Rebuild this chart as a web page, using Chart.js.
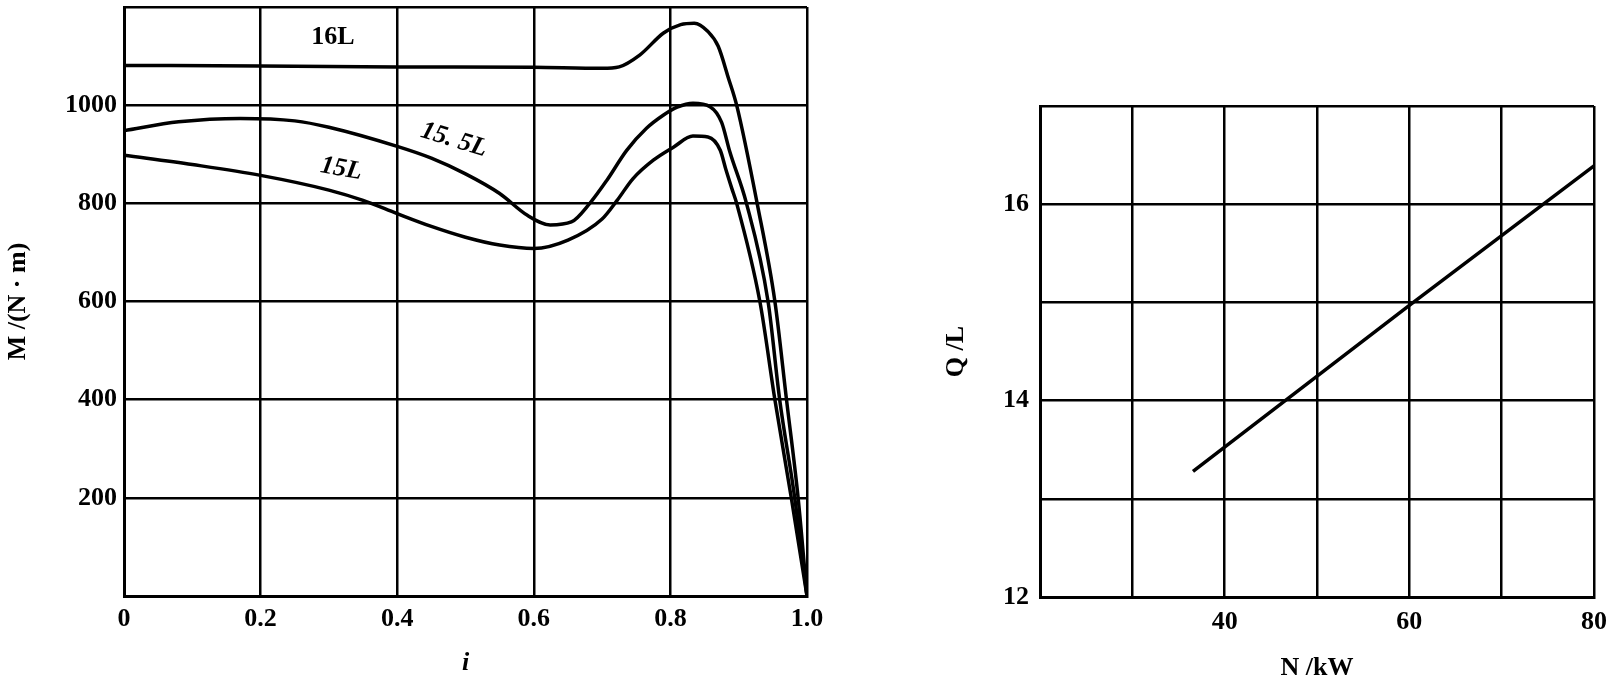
<!DOCTYPE html>
<html><head><meta charset="utf-8">
<script src="https://cdn.jsdelivr.net/npm/chart.js@4.4.1/dist/chart.umd.min.js"></script>
<style>
html,body{margin:0;padding:0;background:#fff;width:1606px;height:689px;overflow:hidden;}
canvas{position:absolute;top:0;}
#c1{left:0;}
#c2{left:900px;}
</style></head><body>
<canvas id="c1" width="830" height="689"></canvas>
<canvas id="c2" width="706" height="689"></canvas>
<script>
// ---- Left chart data: M (N·m) versus i ----
const i16  = [0, 0.2, 0.4, 0.6, 0.7, 0.725, 0.755, 0.79, 0.815, 0.835, 0.855, 0.87, 0.885, 0.897, 0.927, 0.953, 0.97, 0.987, 1.0];
const m16  = [1081, 1080, 1078, 1077, 1075, 1078, 1102, 1147, 1164, 1167, 1150, 1120, 1055, 1000, 800, 600, 400, 200, 0];
const i155 = [0, 0.08, 0.17, 0.25, 0.3, 0.4, 0.45, 0.5, 0.55, 0.59, 0.624, 0.655, 0.682, 0.707, 0.736, 0.765, 0.79, 0.81, 0.833, 0.858, 0.875, 0.887, 0.911, 0.943, 0.96, 0.982, 1.0];
const m155 = [948, 966, 973, 968, 955, 916, 892, 860, 820, 776, 756, 762, 800, 847, 908, 953, 980, 996, 1004, 997, 965, 905, 802, 600, 400, 200, 0];
const i15  = [0, 0.1, 0.2, 0.3, 0.35, 0.4, 0.45, 0.5, 0.55, 0.6, 0.65, 0.7, 0.722, 0.745, 0.775, 0.805, 0.833, 0.855, 0.873, 0.881, 0.89, 0.897, 0.931, 0.953, 0.977, 1.0];
const m15  = [898, 879, 857, 827, 806, 779, 753, 731, 715, 708, 725, 768, 806, 850, 888, 915, 937, 935, 908, 870, 830, 800, 600, 400, 200, 0];
const seriesNames = ['16L', '15. 5L', '15L'];
const leftXTickLabels = ['0', '0.2', '0.4', '0.6', '0.8', '1.0'];
const leftYTickLabels = ['', '200', '400', '600', '800', '1000', ''];

// ---- Right chart data: Q (L) versus N (kW) ----
const powerN = [36.57, 60, 80];
const fuelQ  = [13.28, 14.97, 16.39];
const rightXTickLabels = ['', '', '40', '', '60', '', '80'];
const rightYTickLabels = ['12', '', '14', '', '16', ''];

const FONT = '"Liberation Serif", "Times New Roman", serif';
const tickFont = {family: FONT, size: 26, weight: 'bold'};

function toPts(xs, ys){ return xs.map((x, k) => ({x: x, y: ys[k]})); }
function fixW(w){ return function(s){ s.width = w; s.paddingTop = 0; s.paddingBottom = 0; }; }
function fixH(h){ return function(s){ s.height = h; s.paddingLeft = 0; s.paddingRight = 0; }; }

const curveLabelPlugin = {
  id: 'curveLabels',
  afterDatasetsDraw(chart, args, opts){
    const ctx = chart.ctx, xs = chart.scales.x, ys = chart.scales.y;
    (opts.items || []).forEach(it => {
      ctx.save();
      ctx.translate(xs.getPixelForValue(it.x), ys.getPixelForValue(it.y));
      ctx.rotate(it.angle * Math.PI / 180);
      ctx.font = (it.italic ? 'italic ' : '') + 'bold 26px ' + FONT;
      ctx.fillStyle = '#000';
      ctx.textAlign = 'center';
      ctx.textBaseline = 'middle';
      ctx.fillText(it.text, 0, 0);
      ctx.restore();
    });
  }
};

const gridOpt = {color: '#000', lineWidth: 2.5, drawTicks: false};
const borderOpt = {color: '#000', width: 3};

new Chart(document.getElementById('c1'), {
  type: 'line',
  data: {
    datasets: [
      {label: seriesNames[0], data: toPts(i16, m16)},
      {label: seriesNames[1], data: toPts(i155, m155)},
      {label: seriesNames[2], data: toPts(i15, m15)}
    ]
  },
  options: {
    responsive: false, animation: false, devicePixelRatio: 1,
    layout: {padding: {top: 7, right: 23, left: 0, bottom: 0}},
    elements: {
      point: {radius: 0},
      line: {borderColor: '#000', borderWidth: 3.5, cubicInterpolationMode: 'monotone', fill: false}
    },
    plugins: {
      legend: {display: false}, tooltip: {enabled: false},
      curveLabels: {items: [
        {text: seriesNames[0], x: 0.306, y: 1138, angle: 0, italic: false},
        {text: seriesNames[1], x: 0.483, y: 929, angle: 17, italic: true},
        {text: seriesNames[2], x: 0.318, y: 870, angle: 10, italic: true}
      ]}
    },
    scales: {
      x: {
        type: 'linear', min: 0, max: 1,
        ticks: {stepSize: 0.2, autoSkip: false, maxRotation: 0, padding: 8, color: '#000', font: tickFont,
                callback: (v, k) => leftXTickLabels[k]},
        grid: gridOpt, border: borderOpt,
        title: {display: true, text: 'i', color: '#000', font: {family: FONT, size: 26, style: 'italic', weight: 'bold'}, padding: {top: 0, bottom: 10}},
        afterFit: fixH(93)
      },
      y: {
        type: 'linear', min: 0, max: 1200,
        ticks: {stepSize: 200, autoSkip: false, padding: 7, color: '#000', font: tickFont,
                callback: (v, k) => leftYTickLabels[k]},
        grid: gridOpt, border: borderOpt,
        title: {display: true, text: 'M /(N · m)', color: '#000', font: {family: FONT, size: 26, weight: 'bold'}, padding: {top: 3, bottom: 0}},
        afterFit: fixW(124)
      }
    }
  },
  plugins: [curveLabelPlugin]
});

new Chart(document.getElementById('c2'), {
  type: 'line',
  data: {
    datasets: [{label: 'Q', data: toPts(powerN, fuelQ)}]
  },
  options: {
    responsive: false, animation: false, devicePixelRatio: 1,
    layout: {padding: {top: 106, right: 12, left: 0, bottom: 0}},
    elements: {
      point: {radius: 0},
      line: {borderColor: '#000', borderWidth: 3.5, tension: 0, fill: false}
    },
    plugins: {legend: {display: false}, tooltip: {enabled: false}},
    scales: {
      x: {
        type: 'linear', min: 20, max: 80,
        ticks: {stepSize: 10, autoSkip: false, maxRotation: 0, padding: 10, color: '#000', font: tickFont,
                callback: (v, k) => rightXTickLabels[k]},
        grid: gridOpt, border: borderOpt,
        title: {display: true, text: 'N /kW', color: '#000', font: {family: FONT, size: 26, weight: 'bold'}, padding: {top: 0, bottom: 5}},
        afterFit: fixH(92)
      },
      y: {
        type: 'linear', min: 12, max: 17,
        ticks: {stepSize: 1, autoSkip: false, padding: 11, color: '#000', font: tickFont,
                callback: (v, k) => rightYTickLabels[k]},
        grid: gridOpt, border: borderOpt,
        title: {display: true, text: 'Q /L', color: '#000', font: {family: FONT, size: 26, weight: 'bold'}, padding: {top: 41, bottom: 0}},
        afterFit: fixW(140)
      }
    }
  }
});
</script>
</body></html>
